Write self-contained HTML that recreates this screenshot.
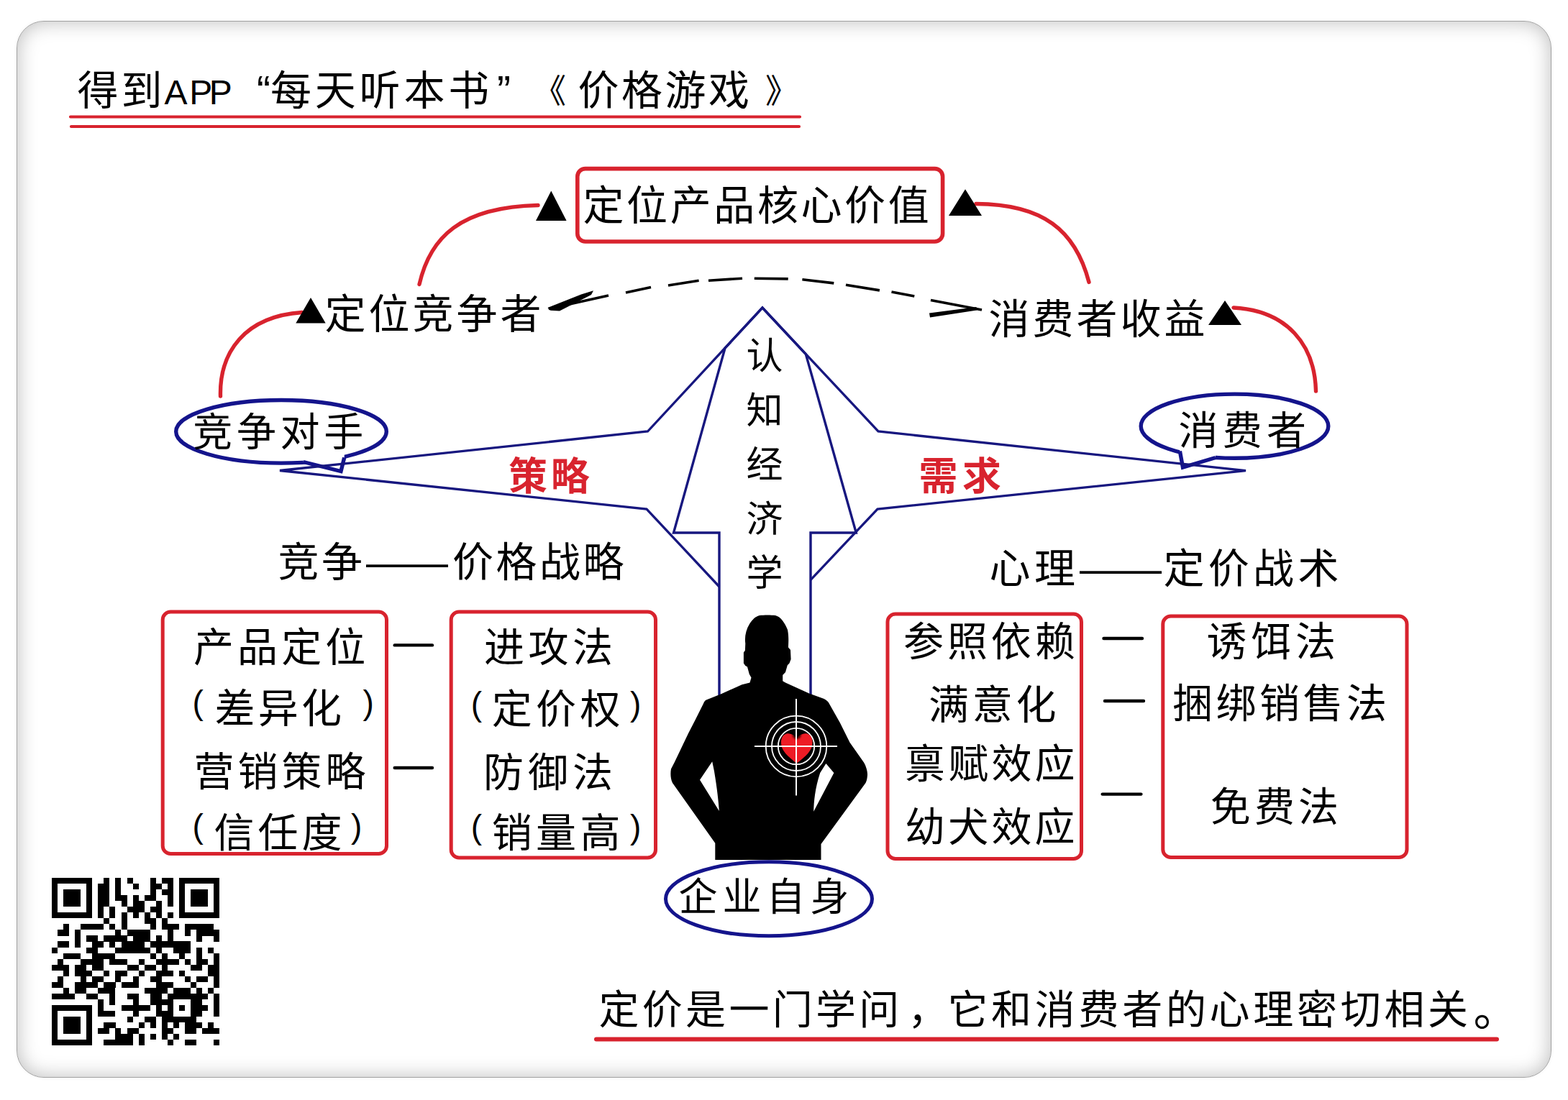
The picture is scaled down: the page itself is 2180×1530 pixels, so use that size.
<!DOCTYPE html>
<html lang="zh"><head><meta charset="utf-8"><title>价格游戏</title>
<style>
html,body{margin:0;padding:0;background:#fff}
body{width:2180px;height:1530px;position:relative;overflow:hidden;font-family:"Liberation Sans","Noto Sans CJK SC",sans-serif}
#frame{position:absolute;left:22.5px;top:29px;width:2132px;height:1468px;border:1.8px solid #a2a2a2;border-radius:38px;box-shadow:inset 0 0 28px rgba(0,0,0,.27),0 0 5px rgba(0,0,0,.06);background:#fff}
#art{position:absolute;left:0;top:0}
#art text{font-family:"Liberation Sans","Noto Sans CJK SC",sans-serif;fill:#000}
</style></head><body>
<div id="frame"></div>
<svg id="art" width="2180" height="1530" viewBox="0 0 2180 1530">
<path d="M98,162.5H1112M99,176H1111" stroke="#d8232e" stroke-width="4.2" stroke-linecap="round" fill="none"/>
<path d="M829,1445.5H2081" stroke="#d8232e" stroke-width="6" stroke-linecap="round" fill="none"/>
<ellipse cx="391" cy="600.3" rx="146.3" ry="43.8" fill="#fff" stroke="#14148c" stroke-width="5.4"/>
<path d="M421.8,637.5 L421.8,642.5 L474,655.5 L478.7,636.5 L478.7,631.5 Z" fill="#fff"/>
<path d="M421.8,642.5 L474,655.5 L478.7,636.5" fill="none" stroke="#14148c" stroke-width="5.4" stroke-linejoin="miter"/>
<ellipse cx="1716.5" cy="592.7" rx="130.3" ry="44.6" fill="#fff" stroke="#14148c" stroke-width="5.4"/>
<path d="M1640.4,622.5 L1640.4,627.5 L1644.5,650 L1690,636.5 L1690,631.5 Z" fill="#fff"/>
<path d="M1640.4,627.5 L1644.5,650 L1690,636.5" fill="none" stroke="#14148c" stroke-width="5.4" stroke-linejoin="miter"/>
<path d="M1000,816 L899,708 L389,654.5 L900.5,600 L1060,428 L1221,600 L1732,654.7 L1220,708 L1127,806.6" fill="none" stroke="#17177f" stroke-width="3.3" stroke-linejoin="miter"/>
<path d="M1127,1000 L1127,741 L1190.3,741 L1120.3,492.5 L1060,428 L1008,484.2 L936.5,741 L1000,741 L1000,1000" fill="none" stroke="#17177f" stroke-width="3.4" stroke-linejoin="miter"/>
<rect x="802.8" y="234.6" width="507.8" height="101.4" rx="11" fill="none" stroke="#d8232e" stroke-width="5.6"/>
<rect x="226.2" y="851.0" width="311.3" height="336.5" rx="11" fill="none" stroke="#d8232e" stroke-width="5"/>
<rect x="627.2" y="851.0" width="284.29999999999995" height="342.0" rx="11" fill="none" stroke="#d8232e" stroke-width="5"/>
<rect x="1234.0" y="854.1" width="269.5" height="340.4" rx="11" fill="none" stroke="#d8232e" stroke-width="5"/>
<rect x="1616.8" y="857.0" width="339.20000000000005" height="335.5" rx="11" fill="none" stroke="#d8232e" stroke-width="5"/>
<path d="M306.5,551 C305,490 340,440 420,434.5 M583,395.5 C598,330 640,288 748,285.5 M1357,283.5 C1450,284 1495,320 1514,392.5 M1715,428 C1790,432 1828,480 1829.5,544" fill="none" stroke="#d8232e" stroke-width="5.4" stroke-linecap="round"/>
<path d="M745,306.9 L766.3,265.5 L787.6,306.9 Z" fill="#000"/>
<path d="M1319,300 L1342.0,263.3 L1365,300 Z" fill="#000"/>
<path d="M411.3,449.5 L432.0,414 L452.7,449.5 Z" fill="#000"/>
<path d="M1680,452 L1703.0,418 L1726,452 Z" fill="#000"/>
<path d="M846,411L762.7,429.6 M870,407L905,399.4 M929,397L971.6,390.3 M985,390.3L1032,387.2 M1048.8,387.2L1095.7,387.9 M1115.4,388.8L1159.3,393.9 M1176,396.3L1222.9,403.9 M1239.5,406L1271.3,412 M1294,417.5L1365,431" fill="none" stroke="#000" stroke-width="3.6"/>
<path d="M761.5,428 L808,409.5 L825,404.2 L822,410 L778,432.5 L765,431.8 Z" fill="#000"/>
<path d="M1292,435.5 L1357.5,427 L1358,431.5 L1293,441.5 Z" fill="#000"/>
<path d="M548.7,897.4H601" stroke="#000" stroke-width="4.4" stroke-linecap="round"/>
<path d="M548.7,1068H601" stroke="#000" stroke-width="4.4" stroke-linecap="round"/>
<path d="M1534.5,888H1588" stroke="#000" stroke-width="4.4" stroke-linecap="round"/>
<path d="M1536,975H1590" stroke="#000" stroke-width="4.4" stroke-linecap="round"/>
<path d="M1532.7,1104.6H1586.4" stroke="#000" stroke-width="4.4" stroke-linecap="round"/>
<path d="M1056,856 C1062,855.3 1072,855.3 1078,856 C1085,857.5 1091,866 1095,876 C1097,886 1096,895 1096,900.5 L1099,904 L1099.6,917 L1097.5,922.6 L1094.8,925.3 L1092,935 L1088.2,939 L1088.2,947.3 L1092,949.4 L1125,964.5 L1145.7,972 C1150,974 1152,977 1153,979 L1167.7,1005 L1181.5,1032.7 L1200.7,1060 C1205,1067 1206.5,1075 1205.9,1079.2 C1205.5,1084 1204.5,1087 1203.5,1089 L1141.5,1174 L1141.5,1196 L994.3,1196 L994.3,1172.7 L935,1089 C932,1083 932,1075 933,1069.5 L937.9,1060 L957,1020 L966.8,1001 L977.8,979 C979,976 980,974.5 982,973.5 L1002.6,965.2 L1031.5,952.2 L1042.5,949.4 L1044.5,942.5 L1041.8,937.7 L1039,927.4 L1036.3,926 L1033.9,922.6 L1033.9,907.4 L1035.9,904.7 L1036.3,895 C1035,886 1037,876 1042,868 C1046,862 1050,857.5 1056,856 Z M990.2,1059.2 L973,1084.7 L999.8,1128 C999,1115 997,1097 992.9,1072.3 Z M1148.4,1062 L1159.4,1075 L1131.2,1128.7 C1131.5,1115 1133,1097 1140.2,1075 Z" fill="#000" fill-rule="evenodd"/>
<g fill="none" stroke="#fff"><circle cx="1107" cy="1038" r="42.3" stroke-width="1.8"/><circle cx="1107" cy="1038" r="34" stroke-width="1.8"/><circle cx="1107" cy="1038" r="25.2" stroke-width="1.8"/></g>
<defs><radialGradient id="hg" gradientUnits="userSpaceOnUse" cx="1107.7" cy="1022" r="9"><stop offset="0" stop-color="#000"/><stop offset="0.55" stop-color="#400" stop-opacity=".8"/><stop offset="1" stop-color="#ee1c25" stop-opacity="0"/></radialGradient></defs>
<path id="heart" d="M1107.7,1029.5 C1105,1019 1089,1015.5 1086.3,1029 C1083.5,1045 1099,1054 1107.7,1062 C1116.5,1054 1132,1045 1129.2,1029 C1126.5,1015.5 1110.5,1019 1107.7,1029.5 Z" fill="#ee1c25"/>
<path d="M1107.7,1029.5 C1105,1019 1089,1015.5 1086.3,1029 C1083.5,1045 1099,1054 1107.7,1062 C1116.5,1054 1132,1045 1129.2,1029 C1126.5,1015.5 1110.5,1019 1107.7,1029.5 Z" fill="url(#hg)"/>
<path d="M1049,1038H1164M1107,972V1106.4" stroke="#fff" stroke-width="2"/>
<ellipse cx="1069" cy="1250.3" rx="143.5" ry="51.5" fill="#fff" stroke="#14148c" stroke-width="5"/>
<path d="M72.1,1221.1h56.2v8.18h-56.2zM144.4,1221.1h8.0v8.18h-8.0zM160.4,1221.1h8.0v8.18h-8.0zM176.5,1221.1h8.0v8.18h-8.0zM208.6,1221.1h8.0v8.18h-8.0zM224.7,1221.1h16.1v8.18h-16.1zM248.8,1221.1h56.2v8.18h-56.2zM72.1,1229.1h8.0v8.18h-8.0zM120.3,1229.1h8.0v8.18h-8.0zM136.3,1229.1h16.1v8.18h-16.1zM160.4,1229.1h8.0v8.18h-8.0zM184.5,1229.1h8.0v8.18h-8.0zM208.6,1229.1h16.1v8.18h-16.1zM232.7,1229.1h8.0v8.18h-8.0zM248.8,1229.1h8.0v8.18h-8.0zM296.9,1229.1h8.0v8.18h-8.0zM72.1,1237.2h8.0v8.18h-8.0zM88.2,1237.2h24.1v8.18h-24.1zM120.3,1237.2h8.0v8.18h-8.0zM136.3,1237.2h16.1v8.18h-16.1zM160.4,1237.2h8.0v8.18h-8.0zM208.6,1237.2h8.0v8.18h-8.0zM224.7,1237.2h16.1v8.18h-16.1zM248.8,1237.2h8.0v8.18h-8.0zM264.8,1237.2h24.1v8.18h-24.1zM296.9,1237.2h8.0v8.18h-8.0zM72.1,1245.2h8.0v8.18h-8.0zM88.2,1245.2h24.1v8.18h-24.1zM120.3,1245.2h8.0v8.18h-8.0zM136.3,1245.2h16.1v8.18h-16.1zM160.4,1245.2h16.1v8.18h-16.1zM184.5,1245.2h8.0v8.18h-8.0zM200.6,1245.2h16.1v8.18h-16.1zM232.7,1245.2h8.0v8.18h-8.0zM248.8,1245.2h8.0v8.18h-8.0zM264.8,1245.2h24.1v8.18h-24.1zM296.9,1245.2h8.0v8.18h-8.0zM72.1,1253.2h8.0v8.18h-8.0zM88.2,1253.2h24.1v8.18h-24.1zM120.3,1253.2h8.0v8.18h-8.0zM136.3,1253.2h16.1v8.18h-16.1zM168.5,1253.2h8.0v8.18h-8.0zM184.5,1253.2h16.1v8.18h-16.1zM216.6,1253.2h8.0v8.18h-8.0zM232.7,1253.2h8.0v8.18h-8.0zM248.8,1253.2h8.0v8.18h-8.0zM264.8,1253.2h24.1v8.18h-24.1zM296.9,1253.2h8.0v8.18h-8.0zM72.1,1261.2h8.0v8.18h-8.0zM120.3,1261.2h8.0v8.18h-8.0zM136.3,1261.2h8.0v8.18h-8.0zM152.4,1261.2h8.0v8.18h-8.0zM176.5,1261.2h24.1v8.18h-24.1zM208.6,1261.2h16.1v8.18h-16.1zM248.8,1261.2h8.0v8.18h-8.0zM296.9,1261.2h8.0v8.18h-8.0zM72.1,1269.3h56.2v8.18h-56.2zM136.3,1269.3h8.0v8.18h-8.0zM152.4,1269.3h8.0v8.18h-8.0zM168.5,1269.3h8.0v8.18h-8.0zM184.5,1269.3h8.0v8.18h-8.0zM200.6,1269.3h8.0v8.18h-8.0zM216.6,1269.3h8.0v8.18h-8.0zM232.7,1269.3h8.0v8.18h-8.0zM248.8,1269.3h56.2v8.18h-56.2zM144.4,1277.3h8.0v8.18h-8.0zM168.5,1277.3h8.0v8.18h-8.0zM200.6,1277.3h16.1v8.18h-16.1zM224.7,1277.3h8.0v8.18h-8.0zM88.2,1285.3h8.0v8.18h-8.0zM112.2,1285.3h32.1v8.18h-32.1zM152.4,1285.3h8.0v8.18h-8.0zM168.5,1285.3h8.0v8.18h-8.0zM208.6,1285.3h8.0v8.18h-8.0zM224.7,1285.3h24.1v8.18h-24.1zM256.8,1285.3h40.1v8.18h-40.1zM80.1,1293.4h16.1v8.18h-16.1zM104.2,1293.4h8.0v8.18h-8.0zM160.4,1293.4h8.0v8.18h-8.0zM176.5,1293.4h32.1v8.18h-32.1zM232.7,1293.4h8.0v8.18h-8.0zM256.8,1293.4h8.0v8.18h-8.0zM272.8,1293.4h32.1v8.18h-32.1zM104.2,1301.4h8.0v8.18h-8.0zM120.3,1301.4h16.1v8.18h-16.1zM144.4,1301.4h32.1v8.18h-32.1zM184.5,1301.4h24.1v8.18h-24.1zM216.6,1301.4h8.0v8.18h-8.0zM232.7,1301.4h8.0v8.18h-8.0zM272.8,1301.4h8.0v8.18h-8.0zM296.9,1301.4h8.0v8.18h-8.0zM80.1,1309.4h16.1v8.18h-16.1zM104.2,1309.4h8.0v8.18h-8.0zM128.3,1309.4h16.1v8.18h-16.1zM152.4,1309.4h8.0v8.18h-8.0zM168.5,1309.4h32.1v8.18h-32.1zM208.6,1309.4h56.2v8.18h-56.2zM72.1,1317.5h8.0v8.18h-8.0zM120.3,1317.5h16.1v8.18h-16.1zM160.4,1317.5h48.2v8.18h-48.2zM216.6,1317.5h8.0v8.18h-8.0zM240.7,1317.5h24.1v8.18h-24.1zM272.8,1317.5h8.0v8.18h-8.0zM288.9,1317.5h8.0v8.18h-8.0zM88.2,1325.5h24.1v8.18h-24.1zM128.3,1325.5h32.1v8.18h-32.1zM208.6,1325.5h8.0v8.18h-8.0zM224.7,1325.5h8.0v8.18h-8.0zM248.8,1325.5h8.0v8.18h-8.0zM272.8,1325.5h8.0v8.18h-8.0zM296.9,1325.5h8.0v8.18h-8.0zM80.1,1333.5h8.0v8.18h-8.0zM112.2,1333.5h32.1v8.18h-32.1zM152.4,1333.5h24.1v8.18h-24.1zM192.5,1333.5h8.0v8.18h-8.0zM216.6,1333.5h32.1v8.18h-32.1zM256.8,1333.5h8.0v8.18h-8.0zM272.8,1333.5h16.1v8.18h-16.1zM296.9,1333.5h8.0v8.18h-8.0zM72.1,1341.5h24.1v8.18h-24.1zM104.2,1341.5h16.1v8.18h-16.1zM128.3,1341.5h16.1v8.18h-16.1zM176.5,1341.5h16.1v8.18h-16.1zM200.6,1341.5h16.1v8.18h-16.1zM224.7,1341.5h8.0v8.18h-8.0zM264.8,1341.5h16.1v8.18h-16.1zM288.9,1341.5h16.1v8.18h-16.1zM88.2,1349.6h8.0v8.18h-8.0zM104.2,1349.6h24.1v8.18h-24.1zM144.4,1349.6h8.0v8.18h-8.0zM160.4,1349.6h16.1v8.18h-16.1zM192.5,1349.6h8.0v8.18h-8.0zM216.6,1349.6h24.1v8.18h-24.1zM248.8,1349.6h8.0v8.18h-8.0zM288.9,1349.6h16.1v8.18h-16.1zM80.1,1357.6h8.0v8.18h-8.0zM112.2,1357.6h8.0v8.18h-8.0zM128.3,1357.6h16.1v8.18h-16.1zM160.4,1357.6h8.0v8.18h-8.0zM184.5,1357.6h8.0v8.18h-8.0zM208.6,1357.6h16.1v8.18h-16.1zM256.8,1357.6h8.0v8.18h-8.0zM272.8,1357.6h16.1v8.18h-16.1zM296.9,1357.6h8.0v8.18h-8.0zM72.1,1365.6h16.1v8.18h-16.1zM104.2,1365.6h32.1v8.18h-32.1zM144.4,1365.6h16.1v8.18h-16.1zM168.5,1365.6h24.1v8.18h-24.1zM216.6,1365.6h24.1v8.18h-24.1zM264.8,1365.6h8.0v8.18h-8.0zM296.9,1365.6h8.0v8.18h-8.0zM88.2,1373.7h8.0v8.18h-8.0zM104.2,1373.7h16.1v8.18h-16.1zM136.3,1373.7h24.1v8.18h-24.1zM200.6,1373.7h32.1v8.18h-32.1zM240.7,1373.7h24.1v8.18h-24.1zM272.8,1373.7h8.0v8.18h-8.0zM288.9,1373.7h8.0v8.18h-8.0zM72.1,1381.7h32.1v8.18h-32.1zM120.3,1381.7h16.1v8.18h-16.1zM152.4,1381.7h8.0v8.18h-8.0zM176.5,1381.7h16.1v8.18h-16.1zM208.6,1381.7h16.1v8.18h-16.1zM232.7,1381.7h56.2v8.18h-56.2zM296.9,1381.7h8.0v8.18h-8.0zM136.3,1389.7h8.0v8.18h-8.0zM152.4,1389.7h8.0v8.18h-8.0zM184.5,1389.7h8.0v8.18h-8.0zM208.6,1389.7h32.1v8.18h-32.1zM264.8,1389.7h16.1v8.18h-16.1zM296.9,1389.7h8.0v8.18h-8.0zM72.1,1397.8h56.2v8.18h-56.2zM136.3,1397.8h8.0v8.18h-8.0zM168.5,1397.8h40.1v8.18h-40.1zM216.6,1397.8h8.0v8.18h-8.0zM232.7,1397.8h8.0v8.18h-8.0zM248.8,1397.8h8.0v8.18h-8.0zM264.8,1397.8h24.1v8.18h-24.1zM296.9,1397.8h8.0v8.18h-8.0zM72.1,1405.8h8.0v8.18h-8.0zM120.3,1405.8h8.0v8.18h-8.0zM136.3,1405.8h24.1v8.18h-24.1zM184.5,1405.8h8.0v8.18h-8.0zM216.6,1405.8h24.1v8.18h-24.1zM264.8,1405.8h16.1v8.18h-16.1zM296.9,1405.8h8.0v8.18h-8.0zM72.1,1413.8h8.0v8.18h-8.0zM88.2,1413.8h24.1v8.18h-24.1zM120.3,1413.8h8.0v8.18h-8.0zM176.5,1413.8h8.0v8.18h-8.0zM200.6,1413.8h16.1v8.18h-16.1zM224.7,1413.8h48.2v8.18h-48.2zM72.1,1421.8h8.0v8.18h-8.0zM88.2,1421.8h24.1v8.18h-24.1zM120.3,1421.8h8.0v8.18h-8.0zM144.4,1421.8h16.1v8.18h-16.1zM192.5,1421.8h8.0v8.18h-8.0zM208.6,1421.8h8.0v8.18h-8.0zM224.7,1421.8h8.0v8.18h-8.0zM240.7,1421.8h8.0v8.18h-8.0zM256.8,1421.8h24.1v8.18h-24.1zM288.9,1421.8h8.0v8.18h-8.0zM72.1,1429.9h8.0v8.18h-8.0zM88.2,1429.9h24.1v8.18h-24.1zM120.3,1429.9h8.0v8.18h-8.0zM136.3,1429.9h16.1v8.18h-16.1zM160.4,1429.9h8.0v8.18h-8.0zM176.5,1429.9h16.1v8.18h-16.1zM224.7,1429.9h16.1v8.18h-16.1zM256.8,1429.9h16.1v8.18h-16.1zM280.9,1429.9h24.1v8.18h-24.1zM72.1,1437.9h8.0v8.18h-8.0zM120.3,1437.9h8.0v8.18h-8.0zM160.4,1437.9h24.1v8.18h-24.1zM192.5,1437.9h8.0v8.18h-8.0zM208.6,1437.9h8.0v8.18h-8.0zM224.7,1437.9h8.0v8.18h-8.0zM240.7,1437.9h8.0v8.18h-8.0zM72.1,1445.9h56.2v8.18h-56.2zM144.4,1445.9h40.1v8.18h-40.1zM192.5,1445.9h8.0v8.18h-8.0zM232.7,1445.9h8.0v8.18h-8.0zM256.8,1445.9h16.1v8.18h-16.1zM296.9,1445.9h8.0v8.18h-8.0z" fill="#000" shape-rendering="crispEdges"/>
<g>
<text font-size="57" y="146" x="107.5 168.5">得到</text>
<text font-size="48" y="145" x="228.6 263.3 290.8">APP</text>
<text font-size="57" y="146" x="357">“</text>
<text font-size="57" y="146" x="376 437.8 499.6 561.4 623.2">每天听本书</text>
<text font-size="57" y="146" x="691">”</text>
<text font-size="46" y="142" x="741">《</text>
<text font-size="57" y="146" x="803.5 864 924.5 985">价格游戏</text>
<text font-size="46" y="142" x="1064">》</text>
<text font-size="57" y="306" x="810.5 871.1 931.7 992.3 1052.9 1113.5 1174.1 1234.7">定位产品核心价值</text>
<text font-size="57" y="457" x="451.5 512.5 573.5 634.5 695.5">定位竞争者</text>
<text font-size="57" y="464" x="1374.5 1435.5 1496.5 1557.5 1618.5">消费者收益</text>
<text font-size="55" y="620" x="268.2 328.9 389.6 450.3">竞争对手</text>
<text font-size="55" y="618" x="1638.5 1699.7 1760.9">消费者</text>
<text font-size="54" y="682" x="707 765.7" font-weight="bold" style="fill:#d8232e">策略</text>
<text font-size="54" y="682" x="1277.6 1338" font-weight="bold" style="fill:#d8232e">需求</text>
<text font-size="51" x="1037.5 1037.5 1037.5 1037.5 1037.5" y="513 588.6 664.2 739.8 815.4">认知经济学</text>
<text font-size="57" y="802" x="386.5 447 509 566 629.1 689.6 750.1 810.6">竞争——价格战略</text>
<text font-size="57" y="811" x="1375.5 1438 1501 1558 1617.5 1679.8 1742.1 1804.4">心理——定价战术</text>
<text font-size="56" y="920" x="269 330.1 391.2 452.3">产品定位</text>
<text font-size="46" y="993" x="275.25" text-anchor="middle">(</text>
<text font-size="56" y="1005" x="298.5 358.8 419.1">差异化</text>
<text font-size="46" y="993" x="512.15" text-anchor="middle">)</text>
<text font-size="56" y="1093" x="269.6 330.6 391.6 452.6">营销策略</text>
<text font-size="46" y="1165" x="275.25" text-anchor="middle">(</text>
<text font-size="56" y="1178" x="297.6 358.6 419.6">信任度</text>
<text font-size="46" y="1165" x="495.65" text-anchor="middle">)</text>
<text font-size="56" y="920" x="673 734.5 796">进攻法</text>
<text font-size="46" y="995" x="662.5" text-anchor="middle">(</text>
<text font-size="56" y="1006" x="683.7 745.1 806.5">定价权</text>
<text font-size="46" y="995" x="883.75" text-anchor="middle">)</text>
<text font-size="56" y="1094" x="672 734 796">防御法</text>
<text font-size="46" y="1166" x="662.5" text-anchor="middle">(</text>
<text font-size="56" y="1178" x="683.7 745.1 806.5">销量高</text>
<text font-size="46" y="1166" x="883.75" text-anchor="middle">)</text>
<text font-size="56" y="911.5" x="1256 1316.9 1377.8 1438.7">参照依赖</text>
<text font-size="56" y="1000" x="1291 1351.8 1412.6">满意化</text>
<text font-size="56" y="1082" x="1258 1318.2 1378.4 1438.6">禀赋效应</text>
<text font-size="56" y="1170" x="1258 1318.2 1378.4 1438.6">幼犬效应</text>
<text font-size="56" y="912" x="1677.4 1739.2 1801">诱饵法</text>
<text font-size="56" y="998" x="1630 1690.5 1751 1811.5 1872">捆绑销售法</text>
<text font-size="56" y="1142" x="1682.7 1743.9 1805.1">免费法</text>
<text font-size="54" y="1267" x="943.6 1004.6 1065.6 1126.6">企业自身</text>
<text font-size="56" y="1424" x="832.5 892.8 953.1 1013.4 1073.7 1134 1194.3 1262 1317.4 1378.1 1438.8 1499.5 1560.2 1620.9 1681.6 1742.3 1803 1863.7 1924.4 1985.1">定价是一门学问，它和消费者的心理密切相关</text>
<text font-size="62" y="1426.9" x="2048.6">。</text>
</g>
</svg>
</body></html>
